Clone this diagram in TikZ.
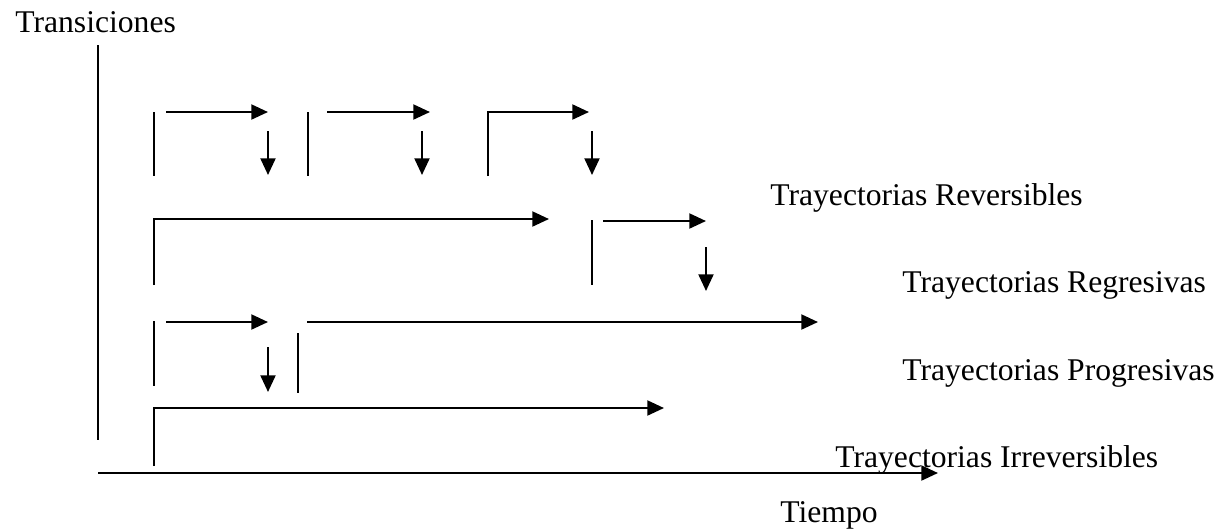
\documentclass[tikz,border=0pt]{standalone}
\usepackage{fontspec}
\setmainfont{Liberation Serif}
\usetikzlibrary{arrows.meta}
\tikzstyle{lbl} = [anchor=base west, inner sep=0pt, font=\fontsize{18}{21}\selectfont]
\tikzstyle{flecha} = [draw, line width=1.3pt, -{Triangle[length=9.5pt, width=8.5pt]}]
\tikzstyle{barra} = [draw, line width=1pt]
\tikzstyle{eje} = [draw, line width=1.2pt]

\begin{document}
\begin{tikzpicture}[x=0.02cm, y=-0.02cm]
    \useasboundingbox (0,0) rectangle (1224,529);

    % Labels
    \node [lbl] (transiciones) at (15,32)  {Transiciones};
    \node [lbl] (reversibles)  at (770,205) {Trayectorias Reversibles};
    \node [lbl] (regresivas)   at (902,292) {Trayectorias Regresivas};
    \node [lbl] (progresivas)  at (902,380) {Trayectorias Progresivas};
    \node [lbl] (irreversibles) at (835,467) {Trayectorias Irreversibles};
    \node [lbl] (tiempo)       at (780,522) {Tiempo};

    % Axes
    \coordinate (ytop) at (98,45);
    \coordinate (ybot) at (98,440);
    \coordinate (xizq) at (98,473);
    \coordinate (xder) at (938,473);
    \draw [eje] (ytop) -- (ybot);
    \draw [flecha] (xizq) -- (xder);

    % Reversibles (row 1)
    \coordinate (rv_b1a) at (154,112);  \coordinate (rv_b1b) at (154,176);
    \coordinate (rv_h1a) at (166,112);  \coordinate (rv_h1b) at (268,112);
    \coordinate (rv_d1a) at (268,131);  \coordinate (rv_d1b) at (268,175);
    \coordinate (rv_b2a) at (308,112);  \coordinate (rv_b2b) at (308,176);
    \coordinate (rv_h2a) at (327,112);  \coordinate (rv_h2b) at (430,112);
    \coordinate (rv_d2a) at (422,131);  \coordinate (rv_d2b) at (422,175);
    \coordinate (rv_c3a) at (488,176);  \coordinate (rv_c3b) at (589,112);
    \coordinate (rv_d3a) at (592,131);  \coordinate (rv_d3b) at (592,175);
    \draw [barra] (rv_b1a) -- (rv_b1b);
    \draw [flecha] (rv_h1a) -- (rv_h1b);
    \draw [flecha] (rv_d1a) -- (rv_d1b);
    \draw [barra] (rv_b2a) -- (rv_b2b);
    \draw [flecha] (rv_h2a) -- (rv_h2b);
    \draw [flecha] (rv_d2a) -- (rv_d2b);
    \draw [flecha] (rv_c3a) |- (rv_c3b);
    \draw [flecha] (rv_d3a) -- (rv_d3b);

    % Regresivas (row 2)
    \coordinate (rg_ca) at (154,285);   \coordinate (rg_cb) at (549,219);
    \coordinate (rg_ba) at (592,220);   \coordinate (rg_bb) at (592,285);
    \coordinate (rg_ha) at (603,221);   \coordinate (rg_hb) at (706,221);
    \coordinate (rg_da) at (706,247);   \coordinate (rg_db) at (706,291);
    \draw [flecha] (rg_ca) |- (rg_cb);
    \draw [barra] (rg_ba) -- (rg_bb);
    \draw [flecha] (rg_ha) -- (rg_hb);
    \draw [flecha] (rg_da) -- (rg_db);

    % Progresivas (row 3)
    \coordinate (pg_ba) at (154,321);   \coordinate (pg_bb) at (154,386);
    \coordinate (pg_ha) at (166,322);   \coordinate (pg_hb) at (268,322);
    \coordinate (pg_da) at (268,347);   \coordinate (pg_db) at (268,392);
    \coordinate (pg_b2a) at (298,333);  \coordinate (pg_b2b) at (298,393);
    \coordinate (pg_la) at (307,322);   \coordinate (pg_lb) at (818,322);
    \draw [barra] (pg_ba) -- (pg_bb);
    \draw [flecha] (pg_ha) -- (pg_hb);
    \draw [flecha] (pg_da) -- (pg_db);
    \draw [barra] (pg_b2a) -- (pg_b2b);
    \draw [flecha] (pg_la) -- (pg_lb);

    % Irreversibles (row 4)
    \coordinate (ir_ca) at (154,466);   \coordinate (ir_cb) at (664,408);
    \draw [flecha] (ir_ca) |- (ir_cb);

\end{tikzpicture}
\end{document}
